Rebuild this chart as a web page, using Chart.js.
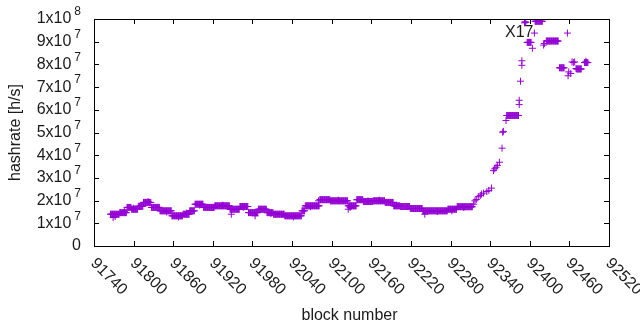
<!DOCTYPE html>
<html>
<head>
<meta charset="utf-8">
<title>hashrate</title>
<script src="https://cdn.jsdelivr.net/npm/chart.js@4/dist/chart.umd.min.js"></script>
<style>
  html, body { margin: 0; padding: 0; background: #ffffff; }
  canvas { display: block; }
</style>
</head>
<body>
<canvas id="grafico" width="640" height="330"></canvas>
<script>
"use strict";

/* =========================
   DATA
========================= */

// runs of blocks with the same hashrate (first block, last block, h/s)
const runStart = [91765, 91779, 91790, 91797, 91807, 91815, 91827, 91840, 91858, 91875,
                  91885, 91893, 91906, 91923, 91946, 91961, 91974, 91989, 92002, 92012,
                  92029, 92055, 92060, 92082, 92098, 92125, 92138, 92148, 92163, 92181,
                  92194, 92204, 92219, 92238, 92276, 92290,
                  92365, 92396, 92408, 92425, 92445, 92471, 92483];
const runEnd   = [91778, 91789, 91796, 91806, 91814, 91826, 91839, 91857, 91874, 91884,
                  91892, 91905, 91922, 91945, 91960, 91973, 91988, 92001, 92011, 92028,
                  92054, 92059, 92081, 92097, 92124, 92137, 92147, 92162, 92180, 92193,
                  92203, 92218, 92237, 92275, 92289, 92313,
                  92383, 92402, 92419, 92443, 92452, 92478, 92488];
const runRate  = [1.40e7, 1.47e7, 1.70e7, 1.62e7, 1.75e7, 1.92e7, 1.70e7, 1.55e7, 1.33e7, 1.40e7,
                  1.55e7, 1.84e7, 1.70e7, 1.77e7, 1.62e7, 1.74e7, 1.47e7, 1.62e7, 1.47e7, 1.40e7,
                  1.33e7, 1.55e7, 1.77e7, 2.04e7, 1.99e7, 1.77e7, 2.04e7, 1.96e7, 1.99e7, 1.92e7,
                  1.77e7, 1.74e7, 1.65e7, 1.55e7, 1.62e7, 1.73e7,
                  5.75e7, 8.97e7, 9.90e7, 9.03e7, 7.85e7, 7.80e7, 8.08e7];

// single blocks (stray values and the steep rise)
const singleBlock = [91769, 91772, 91786, 91800, 91822, 91850, 91868, 91880, 91900, 91935,
                     91948, 91966, 91984, 92008, 92042, 92068, 92080, 92110, 92125, 92128,
                     92155, 92172, 92198, 92241, 92260, 92282, 92300,
                     92315, 92317, 92319, 92322, 92325, 92327, 92330, 92335, 92338, 92342,
                     92345, 92347, 92349, 92351, 92354, 92358, 92359, 92360, 92364,
                     92384, 92384, 92386, 92388, 92388, 92392, 92393, 92394,
                     92404, 92407, 92421, 92422, 92457, 92458, 92459, 92462,
                     92464, 92466, 92468, 92470, 92485];
const singleRate  = [1.25e7, 1.30e7, 1.52e7, 1.66e7, 1.96e7, 1.50e7, 1.28e7, 1.45e7, 1.80e7, 1.80e7,
                     1.40e7, 1.70e7, 1.33e7, 1.43e7, 1.28e7, 1.73e7, 1.99e7, 2.02e7, 1.62e7, 1.70e7,
                     1.99e7, 2.02e7, 1.80e7, 1.40e7, 1.52e7, 1.55e7, 1.70e7,
                     1.84e7, 1.99e7, 2.05e7, 2.17e7, 2.22e7, 2.29e7, 2.33e7, 2.40e7, 2.45e7, 2.55e7,
                     3.32e7, 3.40e7, 3.47e7, 3.55e7, 3.69e7, 4.31e7, 5.01e7, 5.05e7, 5.53e7,
                     6.23e7, 6.42e7, 7.26e7, 7.96e7, 8.16e7, 9.83e7, 9.88e7, 9.85e7,
                     8.71e7, 9.38e7, 8.85e7, 8.92e7, 9.38e7, 7.50e7, 7.67e7, 7.60e7,
                     8.11e7, 8.08e7, 8.11e7, 7.82e7, 8.14e7];

const xMin = 91740;
const xMax = 92520;
const xStep = 60;
const yMax = 1e8;
const yStep = 1e7;

const xTitle = "block number";
const yTitle = "hashrate [h/s]";
const noteText = "X17";

/* =========================
   POINTS
========================= */

function montarPontos(){

    const pts = [];

    for(let i = 0; i < runStart.length; i++){

        for(let b = runStart[i]; b <= runEnd[i]; b++){

            pts.push({ x: b, y: runRate[i] });

        }

    }

    for(let i = 0; i < singleBlock.length; i++){

        pts.push({ x: singleBlock[i], y: singleRate[i] });

    }

    return pts;

}

/* =========================
   FRAME, TICKS, LABELS
========================= */

const FONTE = "Liberation Sans, Arial, sans-serif";

const moldura = {

    id: "moldura",

    afterDraw(chart){

        const ctx = chart.ctx;
        const a = chart.chartArea;
        const xs = chart.scales.x;
        const ys = chart.scales.y;
        const tic = 5;

        ctx.save();

        ctx.strokeStyle = "#000000";
        ctx.lineWidth = 1;

        ctx.beginPath();

        xs.ticks.forEach(function(t){

            const px = Math.round(xs.getPixelForValue(t.value)) + 0.5;

            ctx.moveTo(px, a.bottom);
            ctx.lineTo(px, a.bottom - tic);
            ctx.moveTo(px, a.top);
            ctx.lineTo(px, a.top + tic);

        });

        ys.ticks.forEach(function(t){

            const py = Math.round(ys.getPixelForValue(t.value)) + 0.5;

            ctx.moveTo(a.left, py);
            ctx.lineTo(a.left + tic, py);
            ctx.moveTo(a.right, py);
            ctx.lineTo(a.right - tic, py);

        });

        ctx.stroke();

        ctx.strokeRect(a.left + 0.5, a.top + 0.5, a.right - a.left, a.bottom - a.top);

        ctx.fillStyle = "#1a1a1a";

        // y labels, gnuplot style "Nx10^7"
        ys.ticks.forEach(function(t){

            const py = ys.getPixelForValue(t.value);
            const direita = a.left - 13;

            ctx.textBaseline = "middle";
            ctx.textAlign = "right";

            if(t.value === 0){

                ctx.font = "16px " + FONTE;
                ctx.fillText("0", direita, py);
                return;

            }

            const exp = Math.floor(Math.log10(t.value) + 1e-9);
            const mant = Math.round(t.value / Math.pow(10, exp));

            ctx.font = "12px " + FONTE;
            const wExp = ctx.measureText(String(exp)).width;
            ctx.fillText(String(exp), direita, py - 7);

            ctx.font = "16px " + FONTE;
            ctx.fillText(mant + "x10", direita - wExp - 3, py);

        });

        // x labels rotated clockwise
        ctx.font = "16px " + FONTE;

        xs.ticks.forEach(function(t){

            const px = xs.getPixelForValue(t.value);

            ctx.save();
            ctx.translate(px - 1, a.bottom + 15);
            ctx.rotate(Math.PI / 4);
            ctx.textAlign = "left";
            ctx.textBaseline = "middle";
            ctx.fillText(String(t.value), 0, 0);
            ctx.restore();

        });

        // titles
        ctx.textAlign = "center";
        ctx.textBaseline = "middle";
        ctx.fillText(xTitle, (a.left + a.right) / 2 - 2, 316);

        ctx.save();
        ctx.translate(16, (a.top + a.bottom) / 2);
        ctx.rotate(-Math.PI / 2);
        ctx.fillText(yTitle, 0, 0);
        ctx.restore();

        // note near the peak
        ctx.textAlign = "left";
        ctx.fillText(noteText, 505, 33);

        ctx.restore();

    }

};

/* =========================
   CHART
========================= */

const canvas = document.getElementById("grafico");

new Chart(canvas, {

    type: "scatter",

    data: {

        datasets: [{

            data: montarPontos(),

            pointStyle: "cross",
            pointRadius: 3.5,
            pointHoverRadius: 3.5,
            borderWidth: 1,
            borderColor: "#9400d3",
            backgroundColor: "#9400d3",
            showLine: false

        }]

    },

    options: {

        responsive: false,
        animation: false,
        events: [],

        layout: { padding: { top: 19, right: 31, left: 0, bottom: 0 } },

        plugins: {

            legend: { display: false },
            tooltip: { enabled: false }

        },

        scales: {

            x: {

                type: "linear",
                min: xMin,
                max: xMax,
                ticks: { display: false, stepSize: xStep },
                grid: { display: false },
                border: { display: false },
                afterFit: function(s){ s.height = 84; }

            },

            y: {

                min: 0,
                max: yMax,
                ticks: { display: false, stepSize: yStep },
                grid: { display: false },
                border: { display: false },
                afterFit: function(s){ s.width = 94; }

            }

        }

    },

    plugins: [moldura]

});
</script>
</body>
</html>
